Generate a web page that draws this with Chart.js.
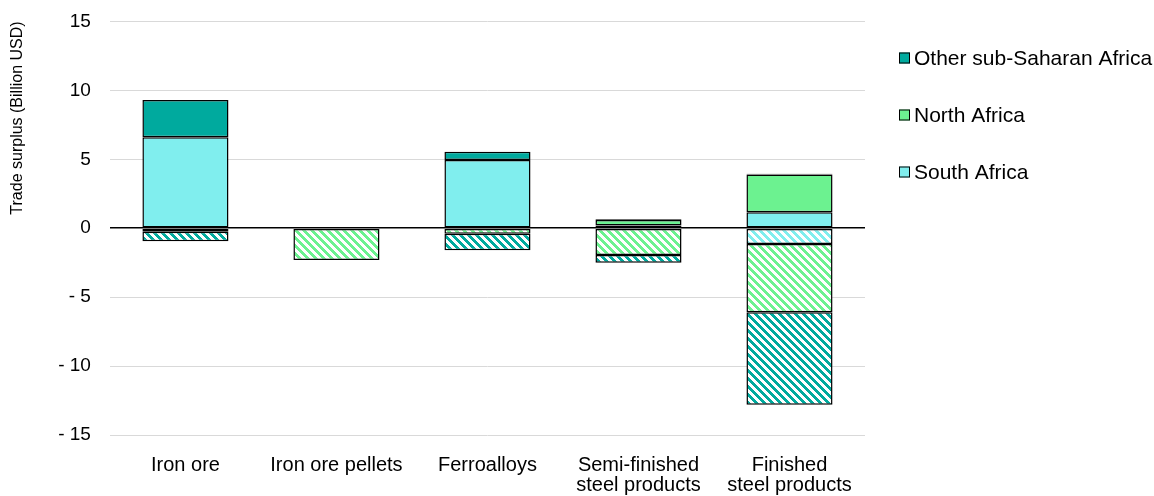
<!DOCTYPE html>
<html>
<head>
<meta charset="utf-8">
<script src="https://cdn.jsdelivr.net/npm/chart.js@4.4.1/dist/chart.umd.min.js"></script>
<style>
  html, body { margin: 0; padding: 0; background: #fff; }
  #wrap { width: 1154px; height: 496px; }
</style>
</head>
<body>
<div id="wrap"><canvas id="chart"></canvas></div>
<script>
var categories = [["Iron ore"], ["Iron ore pellets"], ["Ferroalloys"], ["Semi-finished", "steel products"], ["Finished", "steel products"]];

// exports (solid) and imports (hatched), billion USD
var southAfricaExports = [6.6, null, 4.95, 0.2, 1.15];
var southAfricaImports = [null, null, null, null, -1.15];
var northAfricaExports = [null, null, null, 0.4, 2.75];
var northAfricaImports = [-0.25, -2.3, -0.4, -1.95, -4.95];
var otherSSAExports = [2.7, null, 0.6, 0.05, 0.05];
var otherSSAImports = [-0.7, null, -1.2, -0.55, -6.7];

var yTicks = [-15, -10, -5, 0, 5, 10, 15];

var teal = '#00aa9e';
var green = '#6cf290';
var cyan = '#80eeee';

var family = "'Liberation Sans', Arial, sans-serif";

function hatch(color) {
    var c = document.createElement('canvas');
    c.width = 8;
    c.height = 8;
    var g = c.getContext('2d');
    g.fillStyle = '#fff';
    g.fillRect(0, 0, 8, 8);
    g.fillStyle = color;
    for (var y = 0; y < 8; y++) {
        for (var x = 0; x < 8; x++) {
            if (((x - y) % 8 + 8) % 8 < 4) g.fillRect(x, y, 1, 1);
        }
    }
    return g.createPattern(c, 'repeat');
}

function bar(label, data, fill, inLegend) {
    return {
        label: label,
        data: data,
        inLegend: inLegend,
        backgroundColor: fill,
        borderColor: '#000',
        borderWidth: 1.5,
        borderSkipped: false,
        barPercentage: 0.57,
        categoryPercentage: 1
    };
}

// legend on the right, drawn by hand so the spacing matches
var sideLegend = {
    id: 'sideLegend',
    afterDraw: function(chart) {
        var c = chart.ctx;
        var items = chart.data.datasets.filter(function(d) { return d.inLegend; }).reverse();
        c.save();
        c.font = '21px ' + family;
        c.textBaseline = 'middle';
        c.textAlign = 'left';
        items.forEach(function(d, i) {
            var y = 58 + i * 57;
            c.fillStyle = d.backgroundColor;
            c.fillRect(899, y - 5.5, 11, 11);
            c.strokeStyle = '#000';
            c.lineWidth = 1;
            c.strokeRect(899.5, y - 5, 10, 10);
            c.fillStyle = '#000';
            c.fillText(d.label, 914, y + 1);
        });
        c.restore();
    }
};

var ctx = document.getElementById('chart').getContext('2d');
new Chart(ctx, {
    type: 'bar',
    data: {
        labels: categories,
        datasets: [
            bar('South Africa', southAfricaExports, cyan, true),
            bar('South Africa imports', southAfricaImports, hatch(cyan), false),
            bar('North Africa', northAfricaExports, green, true),
            bar('North Africa imports', northAfricaImports, hatch(green), false),
            bar('Other sub-Saharan Africa', otherSSAExports, teal, true),
            bar('Other sub-Saharan Africa imports', otherSSAImports, hatch(teal), false)
        ]
    },
    plugins: [sideLegend],
    options: {
        responsive: true,
        maintainAspectRatio: false,
        animation: false,
        layout: { padding: { left: 8, top: 0, right: 289, bottom: 0 } },
        plugins: {
            legend: { display: false },
            tooltip: { enabled: false }
        },
        scales: {
            x: {
                stacked: true,
                grid: { display: false, drawTicks: true, tickLength: 19 },
                border: { display: false },
                ticks: {
                    color: '#000',
                    font: { family: family, size: 20, lineHeight: 1.0 },
                    padding: 1,
                    maxRotation: 0,
                    autoSkip: false
                }
            },
            y: {
                stacked: true,
                min: yTicks[0],
                max: yTicks[yTicks.length - 1],
                border: { display: false },
                grid: {
                    drawTicks: true,
                    tickLength: 9,
                    tickColor: 'rgba(0,0,0,0)',
                    color: function(c) { return c.tick && c.tick.value === 0 ? '#000' : '#d9d9d9'; },
                    lineWidth: function(c) { return c.tick && c.tick.value === 0 ? 1.5 : 1; }
                },
                afterBuildTicks: function(axis) {
                    axis.ticks = yTicks.map(function(v) { return { value: v }; });
                },
                ticks: {
                    color: '#000',
                    font: { family: family, size: 19 },
                    padding: 10,
                    callback: function(v) { return v < 0 ? '- ' + Math.abs(v) : String(v); }
                },
                title: {
                    display: true,
                    align: 'end',
                    text: 'Trade surplus (Billion USD)',
                    color: '#000',
                    font: { family: family, size: 16 },
                    padding: { top: 0, bottom: 21 }
                }
            }
        }
    }
});
</script>
</body>
</html>
